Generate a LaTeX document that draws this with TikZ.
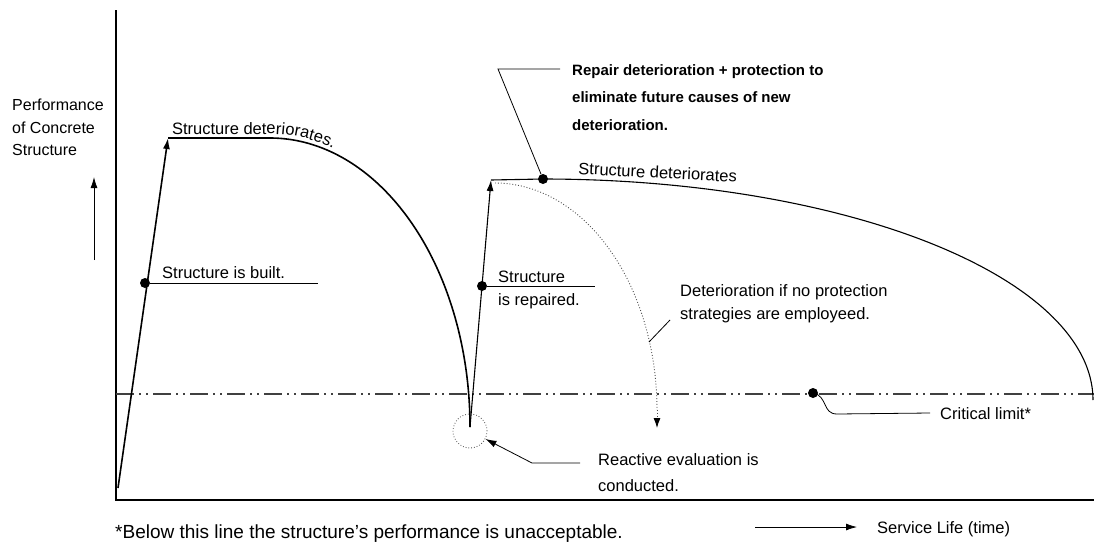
\documentclass[tikz,border=0pt]{standalone}
\usepackage{fontspec}
\setmainfont{Liberation Sans}
\usetikzlibrary{arrows.meta,decorations.text}
\newcommand\labfont{\fontsize{16.5}{20}\selectfont}
\begin{document}
\begin{tikzpicture}[x=1pt,y=-1pt,
  lbl/.style={font=\labfont, inner sep=0pt, anchor=base west},
  bld/.style={font=\fontsize{15}{18}\selectfont\bfseries, inner sep=0pt, anchor=base west},
  dotnode/.style={circle, fill=black, inner sep=0pt, minimum size=10pt},
  thickcurve/.style={line width=1.6pt},
  thincurve/.style={line width=1.1pt},
  lead/.style={line width=0.8pt},
  tip/.style={-{Latex[length=11pt,width=7pt]}},
  crit/.style={line width=1.3pt, black!75, dash pattern=on 18pt off 5pt on 2pt off 5pt on 2pt off 5pt},
]
\useasboundingbox (0,0) rectangle (1094,541);
% axes
\coordinate (yt) at (116,10);
\coordinate (o) at (116,500);
\coordinate (xe) at (1094,500);
\draw[line width=1.2pt] (yt) -- (o) -- (xe);
% y label
\node[lbl, font=\fontsize{16}{20}\selectfont] (yl1) at (12,110) {Performance};
\node[lbl, font=\fontsize{16}{20}\selectfont] (yl2) at (12,133) {of Concrete};
\node[lbl, font=\fontsize{16}{20}\selectfont] (yl3) at (12,155) {Structure};
\coordinate (ya0) at (94,260);
\coordinate (ya1) at (94,177);
\draw[lead, tip] (ya0) -- (ya1);
% critical line
\coordinate (cl0) at (116,394);
\coordinate (cl1) at (1094,394);
\draw[crit] (cl0) -- (cl1);
% first cycle
\coordinate (s0) at (118,488);
\coordinate (p1) at (168,138);
\coordinate (c1) at (270,138);
\coordinate (v) at (470,427);
\draw[thickcurve, tip] (s0) -- (p1);
\draw[thickcurve] (p1) -- (c1) --plot[domain=-90:0, samples=90, smooth] ({270+200*cos(\x)}, {427+289*sin(\x)});
\path[decorate, decoration={text along path, text align=left,
   text={|\labfont|Structure deteriorates.}}]
   (172,134) -- (270,134) arc[start angle=90, end angle=20, x radius=205pt, y radius=294pt];
\node[dotnode] (d1) at (145,283) {};
\coordinate (d1e) at (318,283);
\draw[lead] (d1) -- (d1e);
\node[lbl] (t1) at (162,278) {Structure is built.};
% second cycle
\coordinate (p2) at (491,180);
\node[dotnode] (d3) at (543,179) {};
\draw[thincurve, tip] (v) -- (p2);
\draw[thincurve] (p2) -- (d3.center) --plot[domain=-90:0, samples=120, smooth] ({543+550*cos(\x)}, {400+221*sin(\x)});
\node[lbl, rotate=-3] (t2) at (578,174) {Structure deteriorates};
\node[dotnode] (d2) at (482,286) {};
\coordinate (d2e) at (595,286);
\draw[lead] (d2) -- (d2e);
\node[lbl] (t3a) at (498,282) {Structure};
\node[lbl] (t3b) at (498,305) {is repaired.};
% repair leader
\coordinate (b1) at (498,69);
\coordinate (b2) at (560,69);
\draw[lead] (d3) -- (b1) -- (b2);
\node[bld] (r1) at (572,75) {Repair deterioration + protection to};
\node[bld] (r2) at (572,102.5) {eliminate future causes of new};
\node[bld] (r3) at (572,130) {deterioration.};
% dotted curve
\coordinate (q0) at (495,183);
\coordinate (q1) at (657,428);
\draw[black!70, line width=0.9pt, dotted] (q0) --plot[domain=-90:0, samples=80, smooth] ({495+162*cos(\x)}, {410+227*sin(\x)});
\draw[black!70, line width=0.9pt, dotted, -{Latex[length=10pt,width=7pt,color=black]}] (657,410) -- (q1);
\coordinate (dl0) at (649,342);
\coordinate (dl1) at (670,320);
\draw[lead] (dl0) -- (dl1);
\node[lbl] (t4a) at (680,296) {Deterioration if no protection};
\node[lbl] (t4b) at (680,319) {strategies are employeed.};
% reactive evaluation
\node[draw, dotted, black!70, circle, minimum size=34pt, inner sep=0pt, line width=0.8pt] (rc) at (470,431) {};
\coordinate (ra) at (532,463);
\coordinate (rb) at (580,463);
\draw[lead, tip] (rb) -- (ra) -- (rc);
\node[lbl] (t5a) at (598,465) {Reactive evaluation is};
\node[lbl] (t5b) at (598,491) {conducted.};
% critical limit
\node[dotnode] (d4) at (813,393) {};
\coordinate (k1) at (837,414);
\coordinate (k2) at (930,413);
\draw[lead] (d4.center) .. controls (828,396) and (822,414) .. (k1) -- (k2);
\node[lbl] (t6) at (940,419) {Critical limit*};
% service life
\coordinate (sl0) at (755,527);
\coordinate (sl1) at (857,527);
\draw[lead, tip] (sl0) -- (sl1);
\node[lbl] (t7) at (877,533) {Service Life (time)};
% footnote
\node[lbl, font=\fontsize{19}{20}\selectfont] (fn) at (115,538) {*Below this line the structure's performance is unacceptable.};
\end{tikzpicture}
\end{document}
